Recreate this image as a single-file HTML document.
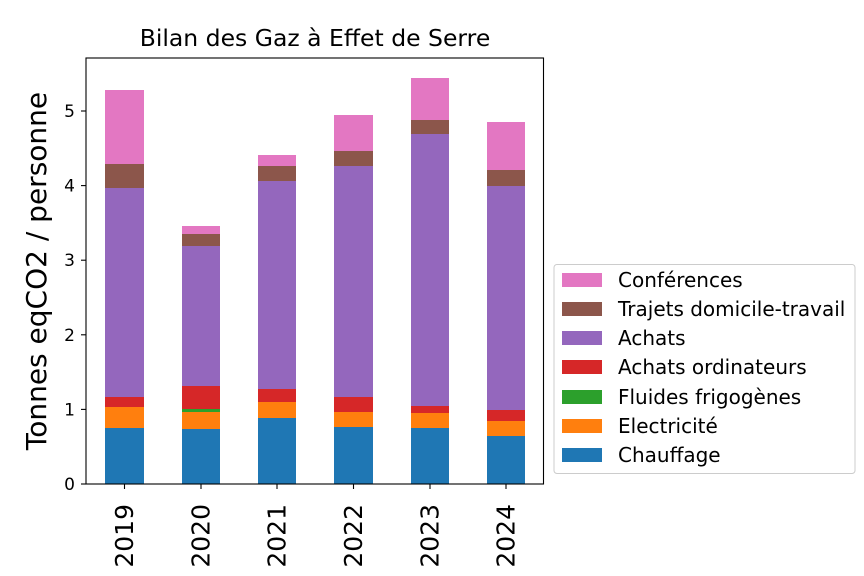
<!DOCTYPE html>
<html><head><meta charset="utf-8"><style>body{margin:0;background:#fff}svg{display:block}</style></head>
<body>
<svg width="864" height="576" viewBox="0 0 864 576" xmlns="http://www.w3.org/2000/svg" font-family="DejaVu Sans, Liberation Sans, sans-serif">
<rect width="864" height="576" fill="#fff"/>
<g id="bars">
<rect x="105" y="428" width="39" height="56" fill="#1f77b4"/>
<rect x="105" y="407" width="39" height="21" fill="#ff7f0e"/>
<rect x="105" y="397" width="39" height="10" fill="#d62728"/>
<rect x="105" y="188" width="39" height="209" fill="#9467bd"/>
<rect x="105" y="164" width="39" height="24" fill="#8c564b"/>
<rect x="105" y="90" width="39" height="74" fill="#e377c2"/>
<rect x="182" y="429" width="38" height="55" fill="#1f77b4"/>
<rect x="182" y="412" width="38" height="17" fill="#ff7f0e"/>
<rect x="182" y="409" width="38" height="3" fill="#2ca02c"/>
<rect x="182" y="386" width="38" height="23" fill="#d62728"/>
<rect x="182" y="246" width="38" height="140" fill="#9467bd"/>
<rect x="182" y="234" width="38" height="12" fill="#8c564b"/>
<rect x="182" y="226" width="38" height="8" fill="#e377c2"/>
<rect x="258" y="418" width="38" height="66" fill="#1f77b4"/>
<rect x="258" y="402" width="38" height="16" fill="#ff7f0e"/>
<rect x="258" y="389" width="38" height="13" fill="#d62728"/>
<rect x="258" y="181" width="38" height="208" fill="#9467bd"/>
<rect x="258" y="166" width="38" height="15" fill="#8c564b"/>
<rect x="258" y="155" width="38" height="11" fill="#e377c2"/>
<rect x="334" y="427" width="39" height="57" fill="#1f77b4"/>
<rect x="334" y="412" width="39" height="15" fill="#ff7f0e"/>
<rect x="334" y="397" width="39" height="15" fill="#d62728"/>
<rect x="334" y="166" width="39" height="231" fill="#9467bd"/>
<rect x="334" y="151" width="39" height="15" fill="#8c564b"/>
<rect x="334" y="115" width="39" height="36" fill="#e377c2"/>
<rect x="411" y="428" width="38" height="56" fill="#1f77b4"/>
<rect x="411" y="413" width="38" height="15" fill="#ff7f0e"/>
<rect x="411" y="406" width="38" height="7" fill="#d62728"/>
<rect x="411" y="134" width="38" height="272" fill="#9467bd"/>
<rect x="411" y="120" width="38" height="14" fill="#8c564b"/>
<rect x="411" y="78" width="38" height="42" fill="#e377c2"/>
<rect x="487" y="436" width="38" height="48" fill="#1f77b4"/>
<rect x="487" y="421" width="38" height="15" fill="#ff7f0e"/>
<rect x="487" y="410" width="38" height="11" fill="#d62728"/>
<rect x="487" y="186" width="38" height="224" fill="#9467bd"/>
<rect x="487" y="170" width="38" height="16" fill="#8c564b"/>
<rect x="487" y="122" width="38" height="48" fill="#e377c2"/>
</g>
<rect x="86" y="58" width="457.5" height="426" fill="none" stroke="#000" stroke-width="1.1"/>
<g stroke="#000" stroke-width="1.1">
<line x1="86" y1="484" x2="81" y2="484"/><line x1="86" y1="409.4" x2="81" y2="409.4"/>
<line x1="86" y1="334.8" x2="81" y2="334.8"/><line x1="86" y1="260.2" x2="81" y2="260.2"/>
<line x1="86" y1="185.6" x2="81" y2="185.6"/><line x1="86" y1="111" x2="81" y2="111"/>
<line x1="124.5" y1="484" x2="124.5" y2="489"/><line x1="201" y1="484" x2="201" y2="489"/>
<line x1="277" y1="484" x2="277" y2="489"/><line x1="353.5" y1="484" x2="353.5" y2="489"/>
<line x1="430" y1="484" x2="430" y2="489"/><line x1="506" y1="484" x2="506" y2="489"/>
</g>
<g font-size="17" text-anchor="end" fill="#000">
<text x="75" y="490">0</text><text x="75" y="415.4">1</text><text x="75" y="340.8">2</text>
<text x="75" y="266.2">3</text><text x="75" y="191.6">4</text><text x="75" y="117">5</text>
</g>
<g font-size="25" text-anchor="end" fill="#000">
<text transform="translate(133,504) rotate(-90)">2019</text>
<text transform="translate(209.5,504) rotate(-90)">2020</text>
<text transform="translate(285.5,504) rotate(-90)">2021</text>
<text transform="translate(362,504) rotate(-90)">2022</text>
<text transform="translate(438.5,504) rotate(-90)">2023</text>
<text transform="translate(514.5,504) rotate(-90)">2024</text>
</g>
<text transform="translate(46,271) rotate(-90)" font-size="28" text-anchor="middle">Tonnes eqCO2 / personne</text>
<text x="315" y="46" font-size="23.5" text-anchor="middle">Bilan des Gaz à Effet de Serre</text>
<rect x="554" y="264.5" width="301" height="209" rx="3" fill="#fff" stroke="#ccc" stroke-width="1"/>
<g font-size="20" fill="#000">
<rect x="562" y="273" width="40" height="14" fill="#e377c2"/><text x="618" y="287">Conférences</text>
<rect x="562" y="302" width="40" height="14" fill="#8c564b"/><text x="618" y="316">Trajets domicile-travail</text>
<rect x="562" y="331" width="40" height="14" fill="#9467bd"/><text x="618" y="345">Achats</text>
<rect x="562" y="360" width="40" height="14" fill="#d62728"/><text x="618" y="374">Achats ordinateurs</text>
<rect x="562" y="390" width="40" height="14" fill="#2ca02c"/><text x="618" y="404">Fluides frigogènes</text>
<rect x="562" y="419" width="40" height="14" fill="#ff7f0e"/><text x="618" y="433">Electricité</text>
<rect x="562" y="448" width="40" height="14" fill="#1f77b4"/><text x="618" y="462">Chauffage</text>
</g>
</svg>
</body></html>
